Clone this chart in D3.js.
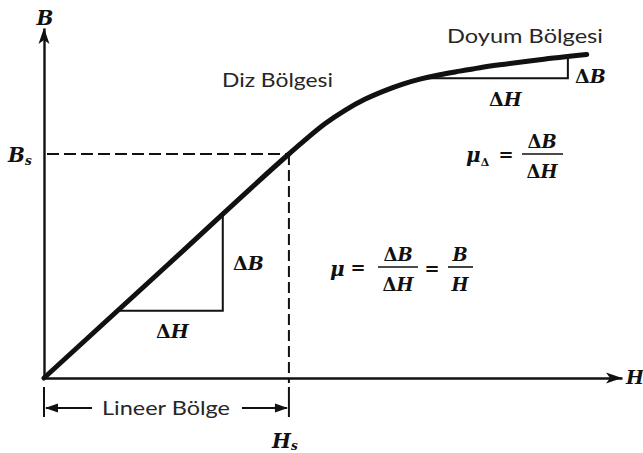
<!DOCTYPE html>
<html>
<head>
<meta charset="utf-8">
<script src="https://cdn.jsdelivr.net/npm/d3@7"></script>
<style>
  html, body { margin: 0; padding: 0; background: #fff; }
  svg { display: block; }
  .sans { font-family: Lato, "Open Sans", sans-serif; fill: #262626; }
  .math { font-family: "DejaVu Serif", "Liberation Serif", serif; font-weight: bold; fill: #111; }
</style>
</head>
<body>
<svg id="chart" width="643" height="453"></svg>
<script>
// Magnetisation (B–H) curve, H and B normalised to the saturation knee (Hs = 1, Bs = 1)
const H_VALUES = [0, 0.5, 1, 1.065, 1.147, 1.229, 1.31, 1.392, 1.465, 1.535, 1.616, 1.698, 1.78, 1.861, 2.024, 2.216];
const B_VALUES = [0, 0.5, 1, 1.062, 1.135, 1.195, 1.244, 1.283, 1.312, 1.334, 1.354, 1.370, 1.385, 1.398, 1.421, 1.444];

// knee point
const H_S = 1;
const B_S = 1;

// slope triangles: [H start, H end]
const LINEAR_TRIANGLE = [0.30, 0.73];
const SAT_TRIANGLE = [1.55, 2.139];

// axis extents
const H_MAX = 2.36;
const B_MAX = 1.5625;

// region labels
const REGION_LABELS = ["Diz Bölgesi", "Doyum Bölgesi", "Lineer Bölge"];

const svg = d3.select("#chart");
const x = d3.scaleLinear().domain([0, H_MAX]).range([44, 622]);
const y = d3.scaleLinear().domain([0, B_MAX]).range([378, 28]);

const ink = "#111";
const curve = H_VALUES.map((h, i) => [h, B_VALUES[i]]);

// interpolate B on the curve for a given H
function bAt(h) {
  for (let i = 1; i < curve.length; i++) {
    if (h <= curve[i][0]) {
      const [h0, b0] = curve[i - 1], [h1, b1] = curve[i];
      return b0 + (b1 - b0) * (h - h0) / (h1 - h0);
    }
  }
  return curve[curve.length - 1][1];
}

// ----- axes -----
const xAxis = svg.append("g")
  .attr("transform", `translate(0,${y(0)})`)
  .call(d3.axisBottom(x).tickValues([]).tickSizeOuter(0));
const yAxis = svg.append("g")
  .attr("transform", `translate(${x(0)},0)`)
  .call(d3.axisLeft(y).tickValues([]).tickSizeOuter(0));
[xAxis, yAxis].forEach(g => g.select(".domain")
  .attr("stroke", ink).attr("stroke-width", 2.4));

// arrowheads on the axes
svg.append("path")
  .attr("d", `M${x(H_MAX)},${y(0)} L${x(H_MAX) - 16},${y(0) - 5.5} L${x(H_MAX) - 12},${y(0)} L${x(H_MAX) - 16},${y(0) + 5.5} Z`)
  .attr("fill", ink);
svg.append("path")
  .attr("d", `M${x(0)},${y(B_MAX)} L${x(0) - 5.5},${y(B_MAX) + 16} L${x(0)},${y(B_MAX) + 12} L${x(0) + 5.5},${y(B_MAX) + 16} Z`)
  .attr("fill", ink);

// ----- dashed guides to the knee -----
svg.append("line")
  .attr("x1", x(0) + 3).attr("y1", y(B_S))
  .attr("x2", x(H_S)).attr("y2", y(B_S))
  .attr("stroke", ink).attr("stroke-width", 2).attr("stroke-dasharray", "12,5");
svg.append("line")
  .attr("x1", x(H_S)).attr("y1", y(B_S))
  .attr("x2", x(H_S)).attr("y2", y(0) + 5)
  .attr("stroke", ink).attr("stroke-width", 2).attr("stroke-dasharray", "11,5");

// ----- linear region bracket -----
const brTop = y(0) + 9, brBot = y(0) + 39, brY = y(0) + 30;
[0, H_S].forEach(h => {
  svg.append("line")
    .attr("x1", x(h)).attr("x2", x(h))
    .attr("y1", brTop).attr("y2", brBot)
    .attr("stroke", ink).attr("stroke-width", 2);
});
svg.append("line").attr("x1", x(0) + 2).attr("x2", x(0) + 48)
  .attr("y1", brY).attr("y2", brY).attr("stroke", ink).attr("stroke-width", 2);
svg.append("line").attr("x1", x(H_S) - 47).attr("x2", x(H_S) - 2)
  .attr("y1", brY).attr("y2", brY).attr("stroke", ink).attr("stroke-width", 2);
svg.append("path")
  .attr("d", `M${x(0) + 1},${brY} L${x(0) + 14},${brY - 4.5} L${x(0) + 14},${brY + 4.5} Z`)
  .attr("fill", ink);
svg.append("path")
  .attr("d", `M${x(H_S) - 1},${brY} L${x(H_S) - 14},${brY - 4.5} L${x(H_S) - 14},${brY + 4.5} Z`)
  .attr("fill", ink);

// ----- slope triangles -----
function slopeTriangle([h0, h1], b0) {
  svg.append("path")
    .attr("d", `M${x(h0)},${y(b0)} L${x(h1)},${y(b0)} L${x(h1)},${y(bAt(h1))}`)
    .attr("fill", "none").attr("stroke", ink).attr("stroke-width", 2);
}
slopeTriangle(LINEAR_TRIANGLE, bAt(LINEAR_TRIANGLE[0]));
slopeTriangle(SAT_TRIANGLE, bAt(SAT_TRIANGLE[0]));

// ----- B-H curve -----
svg.append("path")
  .datum(curve)
  .attr("d", d3.line().x(d => x(d[0])).y(d => y(d[1])).curve(d3.curveMonotoneX))
  .attr("fill", "none").attr("stroke", ink).attr("stroke-width", 5)
  .attr("stroke-linecap", "round").attr("stroke-linejoin", "round");

// ----- region labels -----
svg.append("text").attr("class", "sans").attr("x", 222).attr("y", 87)
  .attr("font-size", 19).attr("textLength", 111).attr("lengthAdjust", "spacingAndGlyphs")
  .text(REGION_LABELS[0]);
svg.append("text").attr("class", "sans").attr("x", 447).attr("y", 43)
  .attr("font-size", 19).attr("textLength", 156).attr("lengthAdjust", "spacingAndGlyphs")
  .text(REGION_LABELS[1]);
svg.append("text").attr("class", "sans").attr("x", 102).attr("y", 415)
  .attr("font-size", 19).attr("textLength", 128).attr("lengthAdjust", "spacingAndGlyphs")
  .text(REGION_LABELS[2]);

// ----- math labels -----
function mathText(px, py, size, anchor, parts) {
  const t = svg.append("text").attr("class", "math")
    .attr("x", px).attr("y", py).attr("font-size", size).attr("text-anchor", anchor);
  parts.forEach(p => {
    const s = t.append("tspan").text(p.t);
    if (p.it) s.attr("font-style", "italic");
    if (p.size) s.attr("font-size", p.size);
    if (p.dy) s.attr("dy", p.dy);
  });
  return t;
}
const D = "\u0394";

// axis names
mathText(45, 25, 20, "middle", [{ t: "B", it: true }]);
mathText(626, 384, 19, "start", [{ t: "H", it: true }]);
mathText(8, 162, 20, "start", [{ t: "B", it: true }, { t: "s", it: true, size: 12, dy: 3 }]);
mathText(272, 448, 20, "start", [{ t: "H", it: true }, { t: "s", it: true, size: 12, dy: 2 }]);

// slope triangle labels
mathText(233, 270, 19, "start", [{ t: D }, { t: "B", it: true }]);
mathText(156, 338, 19, "start", [{ t: D }, { t: "H", it: true }]);
mathText(575, 83, 19, "start", [{ t: D }, { t: "B", it: true }]);
mathText(489, 106, 19, "start", [{ t: D }, { t: "H", it: true }]);

// fraction helper
function fraction(cx, barY, x0, x1, num, den, size) {
  svg.append("line").attr("x1", x0).attr("x2", x1).attr("y1", barY).attr("y2", barY)
    .attr("stroke", ink).attr("stroke-width", 1.6);
  mathText(cx, barY - 6, size, "middle", num);
  mathText(cx, barY + 24, size, "middle", den);
}

// incremental permeability
mathText(466, 162, 20, "start", [{ t: "\u03bc", it: true }, { t: D, size: 11, dy: 4 }]);
mathText(506, 161, 18, "middle", [{ t: "=" }]);
fraction(542, 154, 522, 563, [{ t: D }, { t: "B", it: true }], [{ t: D }, { t: "H", it: true }], 18);

// permeability
mathText(330, 276, 20, "start", [{ t: "\u03bc", it: true }]);
mathText(358, 274, 18, "middle", [{ t: "=" }]);
fraction(398, 267, 378, 418, [{ t: D }, { t: "B", it: true }], [{ t: D }, { t: "H", it: true }], 18);
mathText(432, 275, 18, "middle", [{ t: "=" }]);
fraction(460, 267, 448, 473, [{ t: "B", it: true }], [{ t: "H", it: true }], 18);
</script>
</body>
</html>
